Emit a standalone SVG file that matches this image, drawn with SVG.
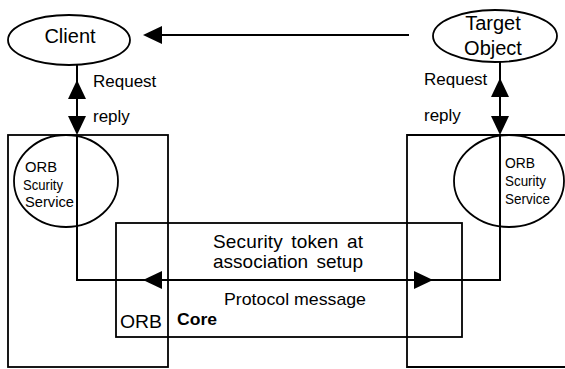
<svg xmlns="http://www.w3.org/2000/svg" xmlns:xlink="http://www.w3.org/1999/xlink" width="565" height="369" viewBox="0 0 565 369">
  <style>
    .shape { fill: none; stroke: #000; stroke-width: 1.8; }
    .wire { fill: none; stroke: #000; stroke-width: 2; }
    .head { fill: #000; stroke: none; }
    text { font-family: "Liberation Sans", Arial, sans-serif; fill: #000; }
    .big { font-size: 20px; }
    .lbl { font-size: 17px; }
    .small { font-size: 15px; }
    .mid { font-size: 19px; word-spacing: 3px; }
  </style>
  <defs>
    <!-- filled arrowhead, tip at the origin, pointing along +x -->
    <path id="ah" class="head" d="M0,0 L-19,-9 L-19,9 Z"/>
  </defs>

  <rect width="565" height="369" fill="#fff"/>

  <!-- Client -->
  <g id="client">
    <ellipse class="shape" cx="69" cy="40" rx="61" ry="25"/>
    <text class="big" x="70" y="43" text-anchor="middle">Client</text>
  </g>

  <!-- Target Object -->
  <g id="target-object">
    <ellipse class="shape" cx="495" cy="36" rx="62" ry="26"/>
    <text class="big" x="493" y="30" text-anchor="middle">Target</text>
    <text class="big" x="493" y="55" text-anchor="middle">Object</text>
  </g>

  <!-- client-side ORB -->
  <g id="client-orb">
    <rect class="shape" x="8" y="135" width="160" height="232"/>
  </g>
  <g id="client-security-service">
    <ellipse class="shape" cx="66" cy="181" rx="52" ry="46"/>
    <text class="small" x="25" y="172" textLength="32" lengthAdjust="spacingAndGlyphs">ORB</text>
    <text class="small" x="23" y="190" textLength="40" lengthAdjust="spacingAndGlyphs">Scurity</text>
    <text class="small" x="25" y="207" textLength="49" lengthAdjust="spacingAndGlyphs">Service</text>
  </g>

  <!-- server-side ORB -->
  <g id="server-orb">
    <path class="shape" d="M566,135 H407 V367 H566"/>
  </g>
  <g id="server-security-service">
    <ellipse class="shape" cx="509" cy="181" rx="55" ry="46"/>
    <text class="small" x="505" y="168" textLength="30" lengthAdjust="spacingAndGlyphs">ORB</text>
    <text class="small" x="505" y="186" textLength="41" lengthAdjust="spacingAndGlyphs">Scurity</text>
    <text class="small" x="505" y="204" textLength="45" lengthAdjust="spacingAndGlyphs">Service</text>
  </g>

  <!-- ORB Core -->
  <g id="orb-core">
    <rect class="shape" x="116" y="223" width="346" height="114"/>
    <text class="mid" x="288" y="248" text-anchor="middle" textLength="150" lengthAdjust="spacing">Security token at</text>
    <text class="mid" x="288" y="268" text-anchor="middle" textLength="150" lengthAdjust="spacing">association setup</text>
    <text class="lbl" x="295" y="305" text-anchor="middle" textLength="142" lengthAdjust="spacingAndGlyphs">Protocol message</text>
    <text class="mid" x="120" y="328" textLength="42" lengthAdjust="spacingAndGlyphs">ORB</text>
    <text class="lbl" x="177" y="325" font-weight="bold" textLength="40" lengthAdjust="spacingAndGlyphs">Core</text>
  </g>

  <!-- connectors -->
  <g id="connectors">
    <!-- target to client -->
    <line class="wire" x1="409" y1="35" x2="150" y2="35"/>
    <use xlink:href="#ah" transform="translate(143,35) rotate(180)"/>

    <!-- client request / reply -->
    <line class="wire" x1="77" y1="65" x2="77" y2="130"/>
    <use xlink:href="#ah" transform="translate(77,80) rotate(-90)"/>
    <use xlink:href="#ah" transform="translate(77,135) rotate(90)"/>
    <text class="lbl" x="93" y="87">Request</text>
    <text class="lbl" x="93" y="122">reply</text>

    <!-- target request / reply -->
    <line class="wire" x1="500" y1="62" x2="500" y2="130"/>
    <use xlink:href="#ah" transform="translate(500,78) rotate(-90)"/>
    <use xlink:href="#ah" transform="translate(500,135) rotate(90)"/>
    <text class="lbl" x="424" y="85">Request</text>
    <text class="lbl" x="424" y="121">reply</text>

    <!-- protocol path between the security services -->
    <path class="wire" d="M77,135 V280 H500 V135"/>
    <use xlink:href="#ah" transform="translate(143,280) rotate(180)"/>
    <use xlink:href="#ah" transform="translate(433,280)"/>
  </g>
</svg>
